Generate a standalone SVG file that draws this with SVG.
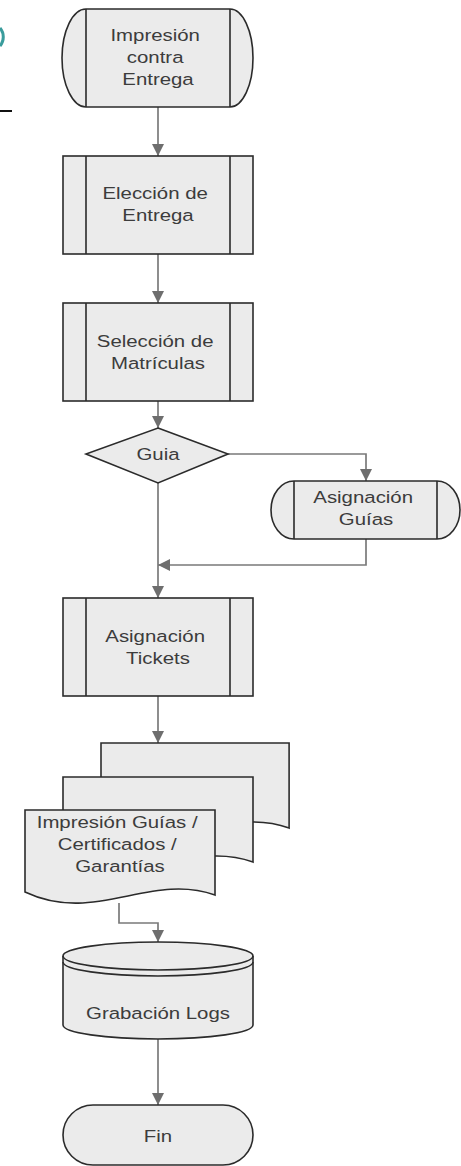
<svg xmlns="http://www.w3.org/2000/svg" xmlns:xlink="http://www.w3.org/1999/xlink" width="461" height="1166" viewBox="0 0 461 1166">
  <style>
    .shape { fill: #ebebeb; stroke: #2b2b2b; stroke-width: 1.6; }
    .bar { fill: none; stroke: #2b2b2b; stroke-width: 1.6; }
    .lbl { font-family: "Liberation Sans", Arial, sans-serif; font-size: 17px; fill: #3c3c3c; text-anchor: middle; }
    .conn { fill: none; stroke: #7a7a7a; stroke-width: 1.7; }
  </style>
  <defs>
    <marker id="arrow" viewBox="0 0 12 12" refX="12" refY="6" markerWidth="12" markerHeight="12" markerUnits="userSpaceOnUse" orient="auto">
      <path d="M0,0 L12,6 L0,12 Z" fill="#6e6e6e"/>
    </marker>
    <!-- single printed page with wavy bottom edge -->
    <path id="page" d="M0,0 H190 V85 C125,62 70,115 0,82 Z"/>
  </defs>

  <!-- page edge remnants -->
  <path d="M0,28 A14,14 0 0 1 0,46" fill="none" stroke="#3a9c9c" stroke-width="3"/>
  <path d="M0,111 H12" stroke="#111" stroke-width="2"/>

  <g id="connectors">
    <path class="conn" d="M158,107 V156" marker-end="url(#arrow)"/>
    <path class="conn" d="M158,254 V303" marker-end="url(#arrow)"/>
    <path class="conn" d="M158,401 V428" marker-end="url(#arrow)"/>
    <path class="conn" d="M228,454 H366 V481" marker-end="url(#arrow)"/>
    <path class="conn" d="M158,483 V598" marker-end="url(#arrow)"/>
    <path class="conn" d="M366,539 V565 H158" marker-end="url(#arrow)"/>
    <path class="conn" d="M158,696 V743" marker-end="url(#arrow)"/>
    <path class="conn" d="M119,903 V923 H158 V942" marker-end="url(#arrow)"/>
    <path class="conn" d="M158,1039 V1105" marker-end="url(#arrow)"/>
  </g>

  <g id="impresion-contra-entrega">
    <path class="shape" d="M86,9 H230 A23,49 0 0 1 230,107 H86 A24,49 0 0 1 86,9 Z"/>
    <path class="bar" d="M86,9 V107 M230,9 V107"/>
    <text class="lbl" transform="translate(158 0) scale(1.2 1)">
      <tspan x="0" y="41">Impresión</tspan>
      <tspan x="0" y="63">contra</tspan>
      <tspan x="0" y="85">Entrega</tspan>
    </text>
  </g>

  <g id="eleccion-entrega">
    <rect class="shape" x="63" y="156" width="190" height="98"/>
    <path class="bar" d="M86,156 V254 M230,156 V254"/>
    <text class="lbl" transform="translate(158 0) scale(1.2 1)">
      <tspan x="0" y="199">Elección de</tspan>
      <tspan x="0" y="221">Entrega</tspan>
    </text>
  </g>

  <g id="seleccion-matriculas">
    <rect class="shape" x="63" y="303" width="190" height="98"/>
    <path class="bar" d="M86,303 V401 M230,303 V401"/>
    <text class="lbl" transform="translate(158 0) scale(1.2 1)">
      <tspan x="0" y="347">Selección de</tspan>
      <tspan x="0" y="369">Matrículas</tspan>
    </text>
  </g>

  <g id="guia">
    <path class="shape" d="M158,428 L228,454 L158,483 L86,454 Z"/>
    <text class="lbl" transform="translate(158 0) scale(1.2 1)"><tspan x="0" y="460">Guia</tspan></text>
  </g>

  <g id="asignacion-guias">
    <path class="shape" d="M294,481 H437 A23,29 0 0 1 437,539 H294 A23,29 0 0 1 294,481 Z"/>
    <path class="bar" d="M294,481 V539 M437,481 V539"/>
    <text class="lbl" transform="translate(366 0) scale(1.2 1)">
      <tspan x="0" y="503">Asignación</tspan>
      <tspan x="0" y="525">Guías</tspan>
    </text>
  </g>

  <g id="asignacion-tickets">
    <rect class="shape" x="63" y="598" width="190" height="98"/>
    <path class="bar" d="M86,598 V696 M230,598 V696"/>
    <text class="lbl" transform="translate(158 0) scale(1.2 1)">
      <tspan x="0" y="642">Asignación</tspan>
      <tspan x="0" y="664">Tickets</tspan>
    </text>
  </g>

  <g id="impresion-documentos">
    <use xlink:href="#page" class="shape" transform="translate(101 743) scale(0.99 1)"/>
    <use xlink:href="#page" class="shape" transform="translate(63 777)"/>
    <use xlink:href="#page" class="shape" transform="translate(25 810)"/>
    <text class="lbl" transform="translate(120 0) scale(1.2 1)">
      <tspan x="0" y="828">Impresión Guías /</tspan>
      <tspan x="0" y="850">Certificados /</tspan>
      <tspan x="0" y="872">Garantías</tspan>
    </text>
  </g>

  <g id="grabacion-logs">
    <path class="shape" d="M63,956 A95,14 0 0 1 253,956 V1025 A95,14 0 0 1 63,1025 Z"/>
    <path class="bar" d="M63,956 A95,14 0 0 0 253,956 M63,962 A95,14 0 0 0 253,962"/>
    <text class="lbl" transform="translate(158 0) scale(1.2 1)"><tspan x="0" y="1019">Grabación Logs</tspan></text>
  </g>

  <g id="fin">
    <rect class="shape" x="63" y="1105" width="190" height="60" rx="30" ry="30"/>
    <text class="lbl" transform="translate(158 0) scale(1.2 1)"><tspan x="0" y="1142">Fin</tspan></text>
  </g>
</svg>
